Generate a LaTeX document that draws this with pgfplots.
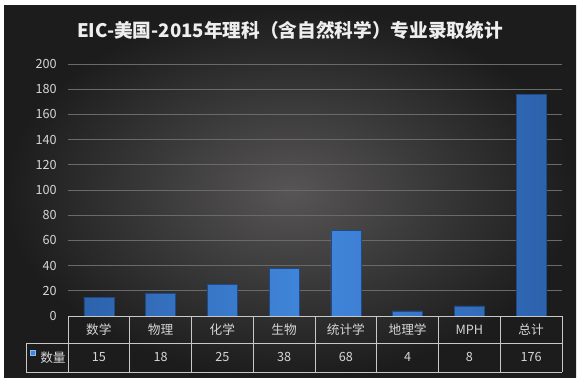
\documentclass[border=0pt]{standalone}
\usepackage{pgfplots}
\pgfplotsset{compat=1.18}
\usepackage{pgfplotstable}
\usepackage{fontspec}
\setmainfont{Noto Sans CJK SC}
\definecolor{bgin}{HTML}{575555}
\definecolor{bgout}{HTML}{1C1C1C}
\definecolor{titlec}{HTML}{EEEEEE}
\definecolor{tickc}{HTML}{D6D6D6}
\definecolor{gridc}{HTML}{6A6A6A}
\definecolor{tablec}{HTML}{C8C8C8}
\definecolor{barDark}{HTML}{2D62AC}
\definecolor{barLight}{HTML}{4187DD}
\definecolor{barEdge}{HTML}{1F4A85}
\definecolor{barTop}{HTML}{8AB8F0}

\pgfplotstableread{
x cat val
0 数学 15
1 物理 18
2 化学 25
3 生物 38
4 统计学 68
5 地理学 4
6 MPH 8
7 总计 176
}\data

\begin{document}
\begin{tikzpicture}
\fill[white] (0pt,0pt) rectangle (439.5pt,288pt);
\shade[inner color=bgin, outer color=bgout] (3pt,4.5pt) rectangle (432pt,283.5pt);
\node[text=titlec, font=\fontsize{14}{16}\selectfont\bfseries] at (217.5pt,265.5pt) {EIC-美国-2015年理科（含自然科学）专业录取统计};
\begin{axis}[
  at={(51pt,51pt)}, anchor=south west,
  scale only axis, width=370.5pt, height=189pt,
  xmin=-0.5, xmax=7.5, ymin=0, ymax=200,
  ytick={0,20,...,200},
  xtick=\empty,
  ymajorgrids, grid style={gridc, line width=0.5pt},
  axis line style={draw=none},
  major tick length=0pt,
  /pgf/number format/assume math mode=true,
  yticklabel style={text=tickc, font=\fontsize{9.5}{11}\selectfont, anchor=east, xshift=-5pt},
  clip=false,
]
\addplot[ybar, bar width=22.5pt, bar shift=0pt, draw=barEdge, line width=0.5pt, left color=barDark, right color=barDark, middle color=barLight] table[x=x,y=val]{\data};

\addplot[draw=none, mark=none, nodes near coords, point meta=explicit,
  every node near coord/.append style={anchor=center, text=tickc, font=\fontsize{9.5}{11}\selectfont}]
  table[x=x, y expr=-32.9, meta=val]{\data};
\addplot[draw=none, mark=none, nodes near coords, point meta=explicit symbolic,
  every node near coord/.append style={anchor=center, text=tickc, font=\fontsize{9.5}{11}\selectfont}]
  table[x=x, y expr=-10.7, meta=cat]{\data};

\draw[tablec, line width=0.6pt] (axis cs:-0.5,0) -- (axis cs:7.5,0);
\draw[tablec, line width=0.6pt] (axis cs:-1.18,-21.4) -- (axis cs:7.5,-21.4);
\draw[tablec, line width=0.6pt] (axis cs:-1.18,-44.4) -- (axis cs:7.5,-44.4);
\draw[tablec, line width=0.6pt] (axis cs:-1.18,-21.4) -- (axis cs:-1.18,-44.4);
\pgfplotsinvokeforeach{-0.5,0.5,1.5,2.5,3.5,4.5,5.5,6.5,7.5}{
  \draw[tablec, line width=0.6pt] (axis cs:#1,0) -- (axis cs:#1,-44.4);
}
\node[fill=barLight, draw=barTop, line width=0.3pt, minimum size=3.6pt, inner sep=0pt] at (axis cs:-1.067,-29) {};
\node[text=tickc, font=\fontsize{9.5}{11}\selectfont] at (axis cs:-0.743,-32.9) {数量};
\end{axis}
\end{tikzpicture}
\end{document}
